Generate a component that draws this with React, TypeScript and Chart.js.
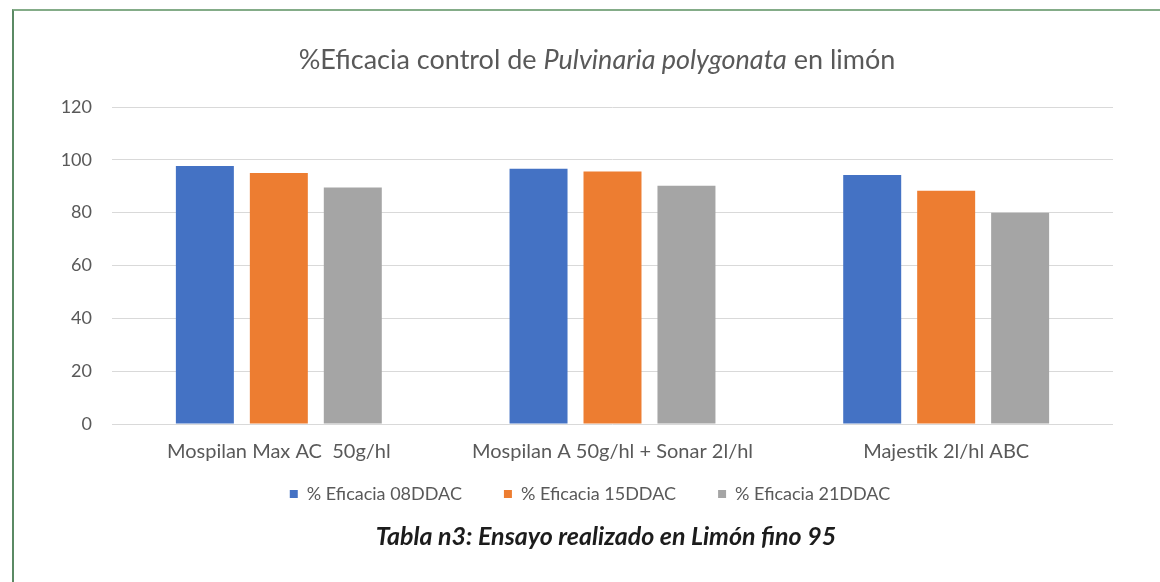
import { useEffect, useRef } from "react";
import { Chart, registerables } from "chart.js";

Chart.register(...registerables);

// ---- data ----
const categories = [
  "Mospilan Max AC  50g/hl",
  "Mospilan A 50g/hl + Sonar 2l/hl",
  "Majestik 2l/hl ABC",
];
const seriesNames = ["% Eficacia 08DDAC", "% Eficacia 15DDAC", "% Eficacia 21DDAC"];
const eficacia08 = [97.7, 96.6, 94.3];
const eficacia15 = [95.0, 95.6, 88.3];
const eficacia21 = [89.5, 90.2, 80.0];
const seriesColors = ["#4472C4", "#ED7D31", "#A5A5A5"];
const yMin = 0;
const yMax = 120;
const yStep = 20;
const titleParts = [
  { text: "%Eficacia control de ", italic: false },
  { text: "Pulvinaria polygonata", italic: true },
  { text: " en limón", italic: false },
];
const captionText = "Tabla n3: Ensayo realizado en Limón fino 95";

// ---- layout constants (canvas coordinates) ----
const CANVAS_LEFT = 13;
const CANVAS_TOP = 11;
const CANVAS_W = 1147;
const CANVAS_H = 571;
const FONT = "Lato, 'Open Sans', sans-serif";
const TEXT_GRAY = "#595959";
const LEGEND_SHIFT_Y = -29;
const LEGEND_SHIFT_X = 3;

const textPlugin = {
  id: "titleCaption",
  afterLayout(chart: any) {
    const lg = chart.legend;
    if (lg) {
      lg.top += LEGEND_SHIFT_Y;
      lg.bottom += LEGEND_SHIFT_Y;
      lg.left += LEGEND_SHIFT_X;
      lg.right += LEGEND_SHIFT_X;
    }
  },
  afterDraw(chart: any) {
    const ctx = chart.ctx as CanvasRenderingContext2D;
    ctx.save();
    // title
    const titleCx = 597 - CANVAS_LEFT;
    const titleCy = 60 - CANVAS_TOP;
    const fonts = titleParts.map((p) => `${p.italic ? "italic " : ""}27px ${FONT}`);
    const widths = titleParts.map((p, i) => {
      ctx.font = fonts[i];
      return ctx.measureText(p.text).width;
    });
    const total = widths.reduce((a, b) => a + b, 0);
    let x = titleCx - total / 2;
    ctx.textBaseline = "middle";
    ctx.textAlign = "left";
    ctx.fillStyle = TEXT_GRAY;
    titleParts.forEach((p, i) => {
      ctx.font = fonts[i];
      ctx.fillText(p.text, x, titleCy);
      x += widths[i];
    });
    // caption
    ctx.font = `italic bold 25px ${FONT}`;
    ctx.fillStyle = "#1c1c1c";
    ctx.textAlign = "center";
    ctx.fillText(captionText, 606 - CANVAS_LEFT, 537 - CANVAS_TOP);
    ctx.restore();
  },
};

export default function App() {
  const canvasRef = useRef<HTMLCanvasElement | null>(null);

  useEffect(() => {
    const canvas = canvasRef.current;
    if (!canvas) return;
    const series = [eficacia08, eficacia15, eficacia21];
    const chart = new Chart(canvas, {
      type: "bar",
      data: {
        labels: categories,
        datasets: series.map((values, i) => ({
          label: seriesNames[i],
          data: values,
          backgroundColor: seriesColors[i],
          borderWidth: 0,
          categoryPercentage: 0.665,
          barPercentage: 0.784,
        })),
      },
      options: {
        animation: false,
        responsive: false,
        devicePixelRatio: 1,
        layout: { padding: { left: 48, right: 47, top: 96, bottom: 40 } },
        plugins: {
          title: { display: false },
          tooltip: { enabled: false },
          legend: {
            display: true,
            position: "bottom",
            labels: {
              boxWidth: 8,
              boxHeight: 8,
              padding: 42,
              color: TEXT_GRAY,
              font: { family: FONT, size: 18 },
            },
          },
        },
        scales: {
          x: {
            grid: { display: false },
            border: { display: false },
            ticks: {
              color: TEXT_GRAY,
              font: { family: FONT, size: 20, lineHeight: 1.2 },
              padding: 8,
              maxRotation: 0,
              autoSkip: false,
            },
          },
          y: {
            min: yMin,
            max: yMax,
            grid: { color: "#D9D9D9", lineWidth: 1, drawTicks: false },
            border: { display: false },
            ticks: {
              stepSize: yStep,
              color: TEXT_GRAY,
              font: { family: FONT, size: 18 },
              padding: 20,
            },
            afterFit: (s: any) => {
              s.width = 51;
            },
          },
        },
      },
      plugins: [textPlugin],
    });
    return () => chart.destroy();
  }, []);

  return (
    <div
      style={{
        position: "absolute",
        left: 0,
        top: 0,
        width: 1160,
        height: 582,
        overflow: "hidden",
        background: "#ffffff",
      }}
    >
      <canvas
        ref={canvasRef}
        width={CANVAS_W}
        height={CANVAS_H}
        style={{
          position: "absolute",
          left: CANVAS_LEFT,
          top: CANVAS_TOP,
          width: CANVAS_W,
          height: CANVAS_H,
        }}
      />
      <div
        style={{
          position: "absolute",
          left: 12,
          top: 9,
          width: 1300,
          height: 1000,
          borderTop: "2px solid #84AC88",
          borderLeft: "2px solid #5B8A64",
          boxSizing: "border-box",
          pointerEvents: "none",
        }}
      />
    </div>
  );
}
